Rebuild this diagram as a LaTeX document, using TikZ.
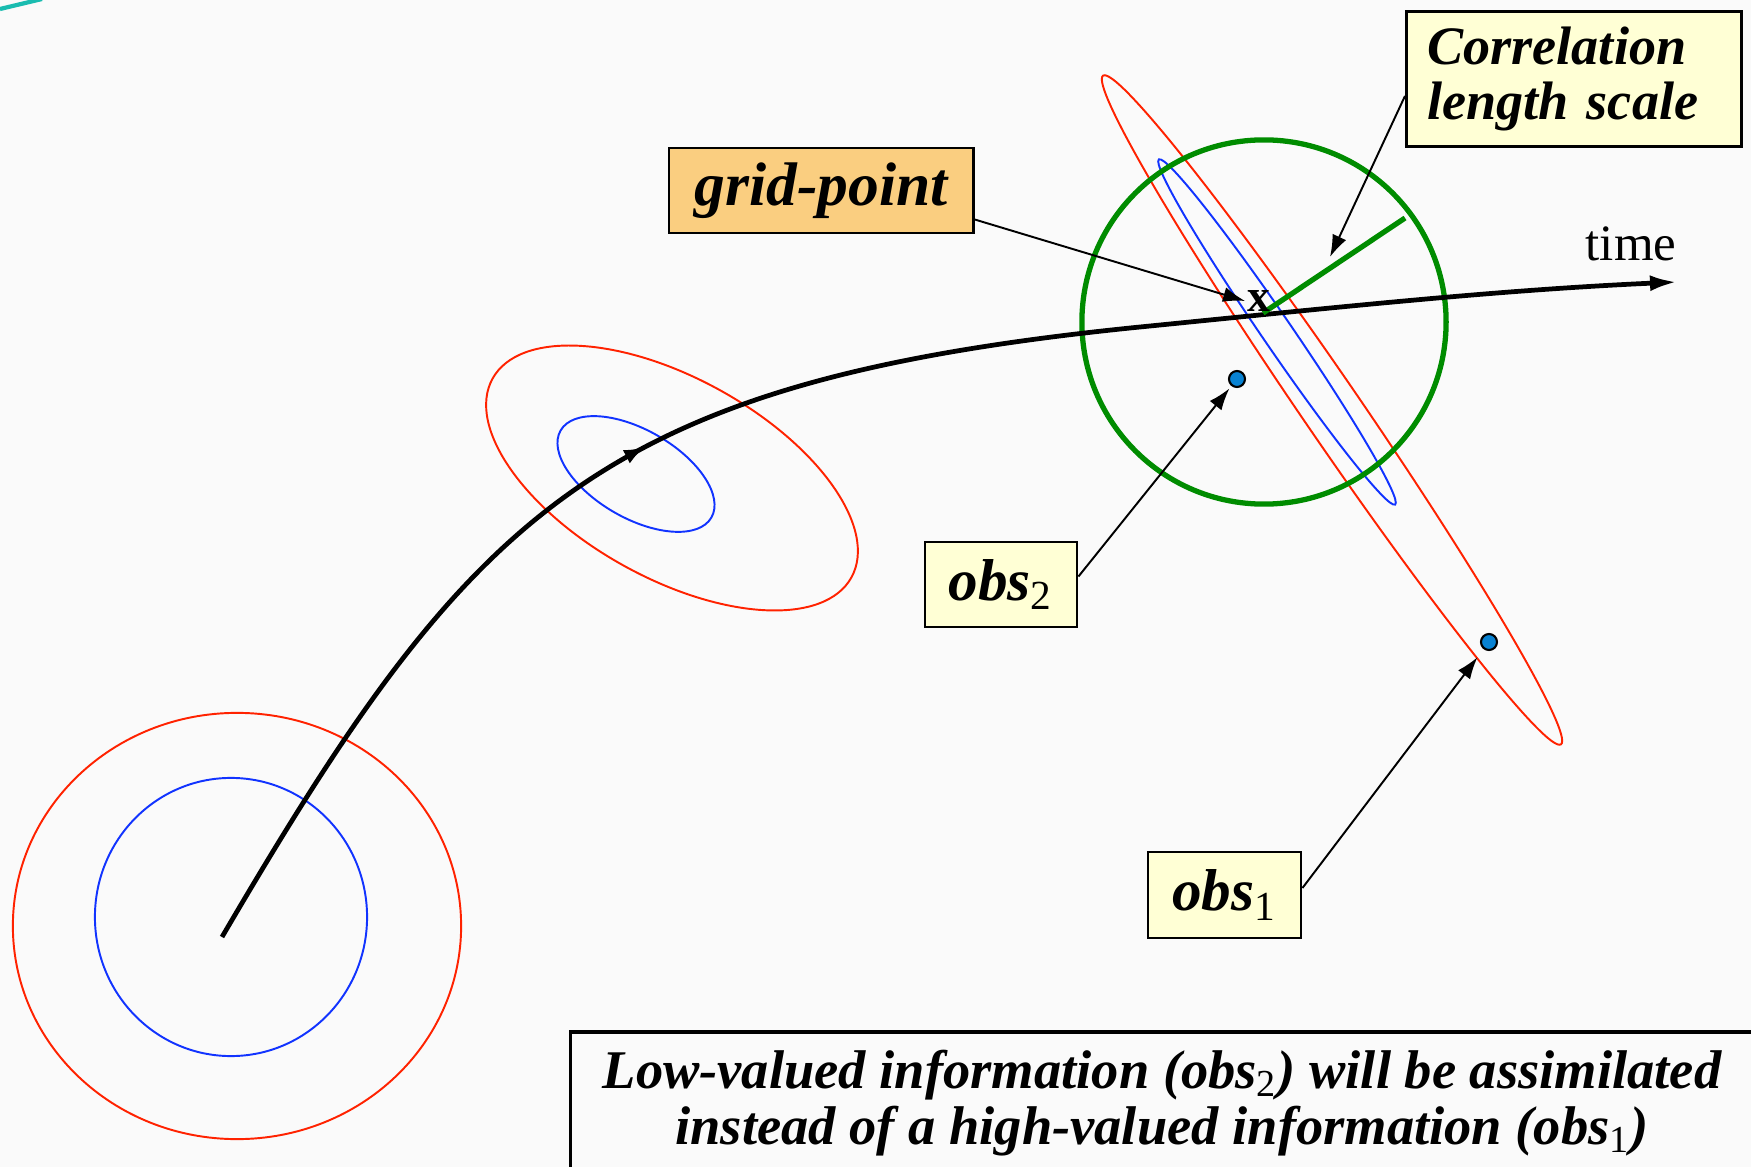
\documentclass[tikz,border=0pt]{standalone}
\usepackage{fontspec}
\setmainfont{Liberation Serif}
\usetikzlibrary{arrows.meta,decorations.markings}

\definecolor{ellred}{RGB}{255,34,0}
\definecolor{ellblue}{RGB}{17,51,255}
\definecolor{corrgreen}{RGB}{0,140,0}
\definecolor{dotblue}{RGB}{8,130,210}
\definecolor{labelyellow}{RGB}{255,255,213}
\definecolor{labelorange}{RGB}{250,206,128}
\definecolor{pagegray}{RGB}{250,250,250}
\definecolor{accentteal}{RGB}{26,188,176}

\newcommand{\lowidx}[1]{\textsubscript{\normalfont #1}}

\begin{document}
\begin{tikzpicture}[x=0.01cm,y=-0.01cm,
  errell/.style={line width=0.55pt},
  labelbox/.style={draw=black, line width=0.8pt, fill=labelyellow, inner sep=0pt},
  pointer/.style={-{Latex[length=0.22cm,width=0.15cm]}, line width=0.55pt},
  obsdot/.style={circle, draw=black, line width=0.6pt, fill=dotblue, minimum size=0.16cm, inner sep=0pt},
  bi/.style={font=\bfseries\itshape\fontsize{#1}{#1}\selectfont}
]
\useasboundingbox (0,0) rectangle (1751,1167);
\clip (0,0) rectangle (1751,1167);
\fill[pagegray] (0,0) rectangle (1751,1167);

% corner accent line
\draw[accentteal, line width=1.2pt] (0,9) -- (42,-1);

% error ellipses at the start of the trajectory
\draw[ellred, errell] (237,926) ellipse [x radius=2.24cm, y radius=2.13cm];
\draw[ellblue, errell] (231,917) ellipse [x radius=1.36cm, y radius=1.39cm];

% error ellipses half way
\draw[ellred, errell, rotate around={-29:(672,478)}] (672,478) ellipse [x radius=2.05cm, y radius=1.0cm];
\draw[ellblue, errell, rotate around={-30:(636,474)}] (636,474) ellipse [x radius=0.87cm, y radius=0.44cm];

% stretched error ellipses at analysis time
\draw[ellred, errell, rotate around={-55.6:(1332,410)}] (1332,410) ellipse [x radius=4.05cm, y radius=0.29cm];
\draw[ellblue, errell, rotate around={-55.6:(1277,332)}] (1277,332) ellipse [x radius=2.09cm, y radius=0.15cm];

% correlation circle
\draw[corrgreen, line width=1.5pt] (1264,322) circle [radius=1.82cm];

% trajectory
\coordinate (t0) at (222,937);
\coordinate (t1) at (1677,282);
\draw[line width=1.35pt, -{Latex[length=0.27cm,width=0.16cm]},
  postaction={decorate},
  decoration={markings, mark=at position 0.385 with {\arrow{Latex[length=0.22cm,width=0.15cm]}}}]
  (t0) .. controls (475,505) and (600,380) .. (1150,326)
       .. controls (1350,306) and (1500,290) .. (t1);

% grid point and correlation radius
\coordinate (gp) at (1263,313);
\coordinate (gprim) at (1405,218);
\draw[corrgreen, line width=1.5pt] (gp) -- (gprim);
\node[font=\bfseries\fontsize{13}{13}\selectfont, inner sep=0.5pt] (xmark) at (1259,301) {x};

\node[anchor=base west, inner sep=0pt, font=\fontsize{14.5}{14.5}\selectfont] (timelbl) at (1585,261) {time};

% observations
\node[obsdot] (dot2) at (1237,379) {};
\node[obsdot] (dot1) at (1489,642) {};

% label boxes
\node[labelbox, fill=labelorange, minimum width=3.04cm, minimum height=0.85cm, bi=17.5] (gpbox) at (821,190.5) {\raisebox{-0.06cm}{grid-point}};
\node[labelbox, anchor=north west, minimum width=3.35cm, minimum height=1.35cm,
      text width=2.93cm, inner xsep=0.21cm, align=left, font=\bfseries\itshape\fontsize{15.4}{15.6}\selectfont] (corrbox) at (1405,10) {Correlation\\length scale};
\node[labelbox, minimum width=1.52cm, minimum height=0.85cm, bi=16.8] (obs2box) at (1001,584.5) {obs\lowidx{2}};
\node[labelbox, minimum width=1.53cm, minimum height=0.86cm, bi=16.8] (obs1box) at (1224.5,895) {obs\lowidx{1}};

% pointers
\coordinate (corrtip) at (1330,257);
\draw[pointer] (gpbox.south east) ++(0,-15) -- (xmark.west);
\draw[pointer] (corrbox.west) ++(0,17) -- (corrtip);
\draw[pointer, shorten >=0.03cm] (obs2box.east) ++(0,-8) -- (dot2);
\draw[pointer, shorten >=0.1cm] (obs1box.east) ++(0,-7) -- (dot1);

% conclusion box
\node[draw=black, line width=0.9pt, fill=pagegray, minimum width=11.82cm, minimum height=1.42cm,
      align=center, font=\bfseries\itshape\fontsize{15.5}{16}\selectfont] (note) at (1162,1103)
  {Low-valued information (obs\lowidx{2}) will be assimilated\\instead of a high-valued information (obs\lowidx{1})};
\end{tikzpicture}
\end{document}
